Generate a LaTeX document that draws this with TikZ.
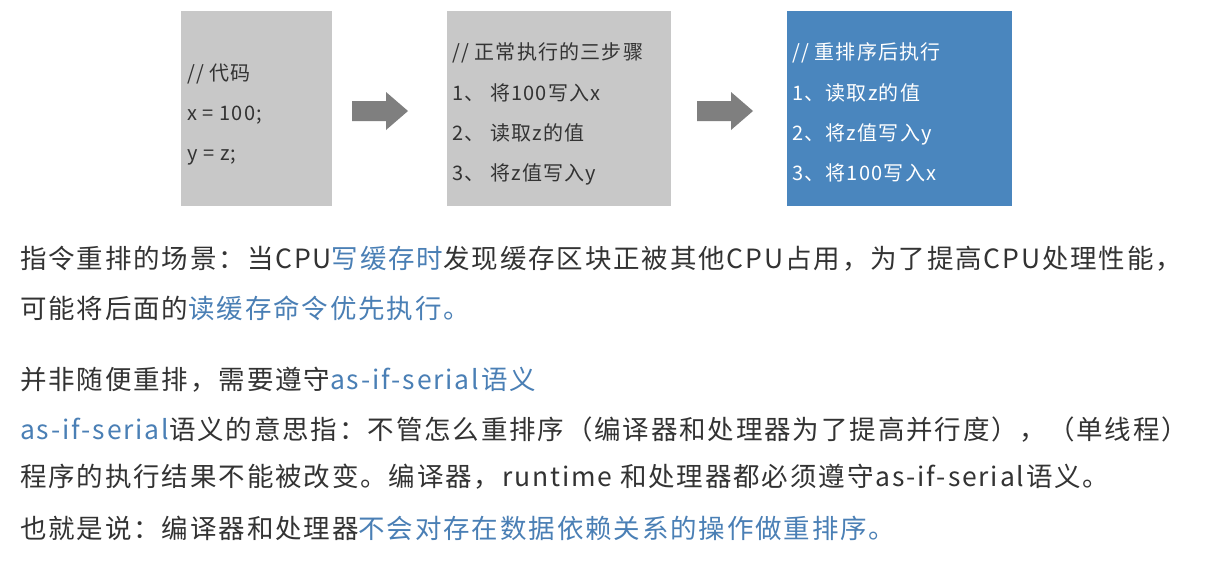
\documentclass[tikz,border=0pt]{standalone}
\usepackage{fontspec}
\setmainfont{Noto Sans CJK SC}
\definecolor{hl}{HTML}{4A7FB5}
\definecolor{boxblue}{HTML}{4A86BE}
\definecolor{boxgray}{HTML}{C8C8C8}
\definecolor{txt}{HTML}{333333}
\definecolor{arrgray}{HTML}{7F7F7F}
\tikzset{
 box/.style={anchor=north west,inner sep=0pt},
 code/.style={anchor=base west,inner sep=0pt,font=\fontsize{20}{20}\selectfont\addfontfeatures{LetterSpace=6},text=txt},
 para/.style={anchor=base west,inner sep=0pt,font=\fontsize{26.5}{26.5}\selectfont\addfontfeatures{LetterSpace=7},text=txt}
}
\newcommand{\hlt}[1]{\textcolor{hl}{#1}}
\newcommand{\blockarrow}[2]{\fill[arrgray] (#1,101) -- (#1+34,101) -- (#1+34,92) -- (#1+56,111) -- (#1+34,130) -- (#1+34,121) -- (#1,121) -- cycle;}
\begin{document}
\begin{tikzpicture}[x=1pt,y=-1pt]
\useasboundingbox[fill=white] (0,0) rectangle (1208,566);
\fill[boxgray] (181,11) rectangle (332,206) node[box] (b1) {};
\fill[boxgray] (447,11) rectangle (671,206) node[box] (b2) {};
\fill[boxblue] (787,11) rectangle (1012,206) node[box] (b3) {};
\blockarrow{352}{}
\blockarrow{697}{}
\node[code] (c11) at (187,80) {// 代码};
\node[code] (c12) at (187,120) {x = 100;};
\node[code] (c13) at (187,160) {y = z;};
\node[code] (c21) at (452,59) {// 正常执行的三步骤};
\node[code] (c22) at (452,100) {1、 将100写入x};
\node[code] (c23) at (452,140) {2、 读取z的值};
\node[code] (c24) at (452,180) {3、 将z值写入y};
\node[code,text=white] (c31) at (792,59) {// 重排序后执行};
\node[code,text=white] (c32) at (792,100) {1、读取z的值};
\node[code,text=white] (c33) at (792,140) {2、将z值写入y};
\node[code,text=white] (c34) at (792,180) {3、将100写入x};
\node[para] (p1) at (20,268) {指令重排的场景：当CPU\hlt{写缓存时}发现缓存区块正被其他CPU占用，为了提高CPU处理性能，};
\node[para] (p2) at (20,318) {可能将后面的\hlt{读缓存命令优先执行。}};
\node[para] (p3) at (20,389) {并非随便重排，需要遵守\hlt{as-if-serial语义}};
\node[para] (p4) at (20,439) {\hlt{as-if-serial}语义的意思指：不管怎么重排序（编译器和处理器为了提高并行度），（单线程）};
\node[para] (p5) at (20,486) {程序的执行结果不能被改变。编译器，runtime 和处理器都必须遵守as-if-serial语义。};
\node[para] (p6) at (20,538) {也就是说：编译器和处理器\hlt{不会对存在数据依赖关系的操作做重排序。}};
\end{tikzpicture}
\end{document}
